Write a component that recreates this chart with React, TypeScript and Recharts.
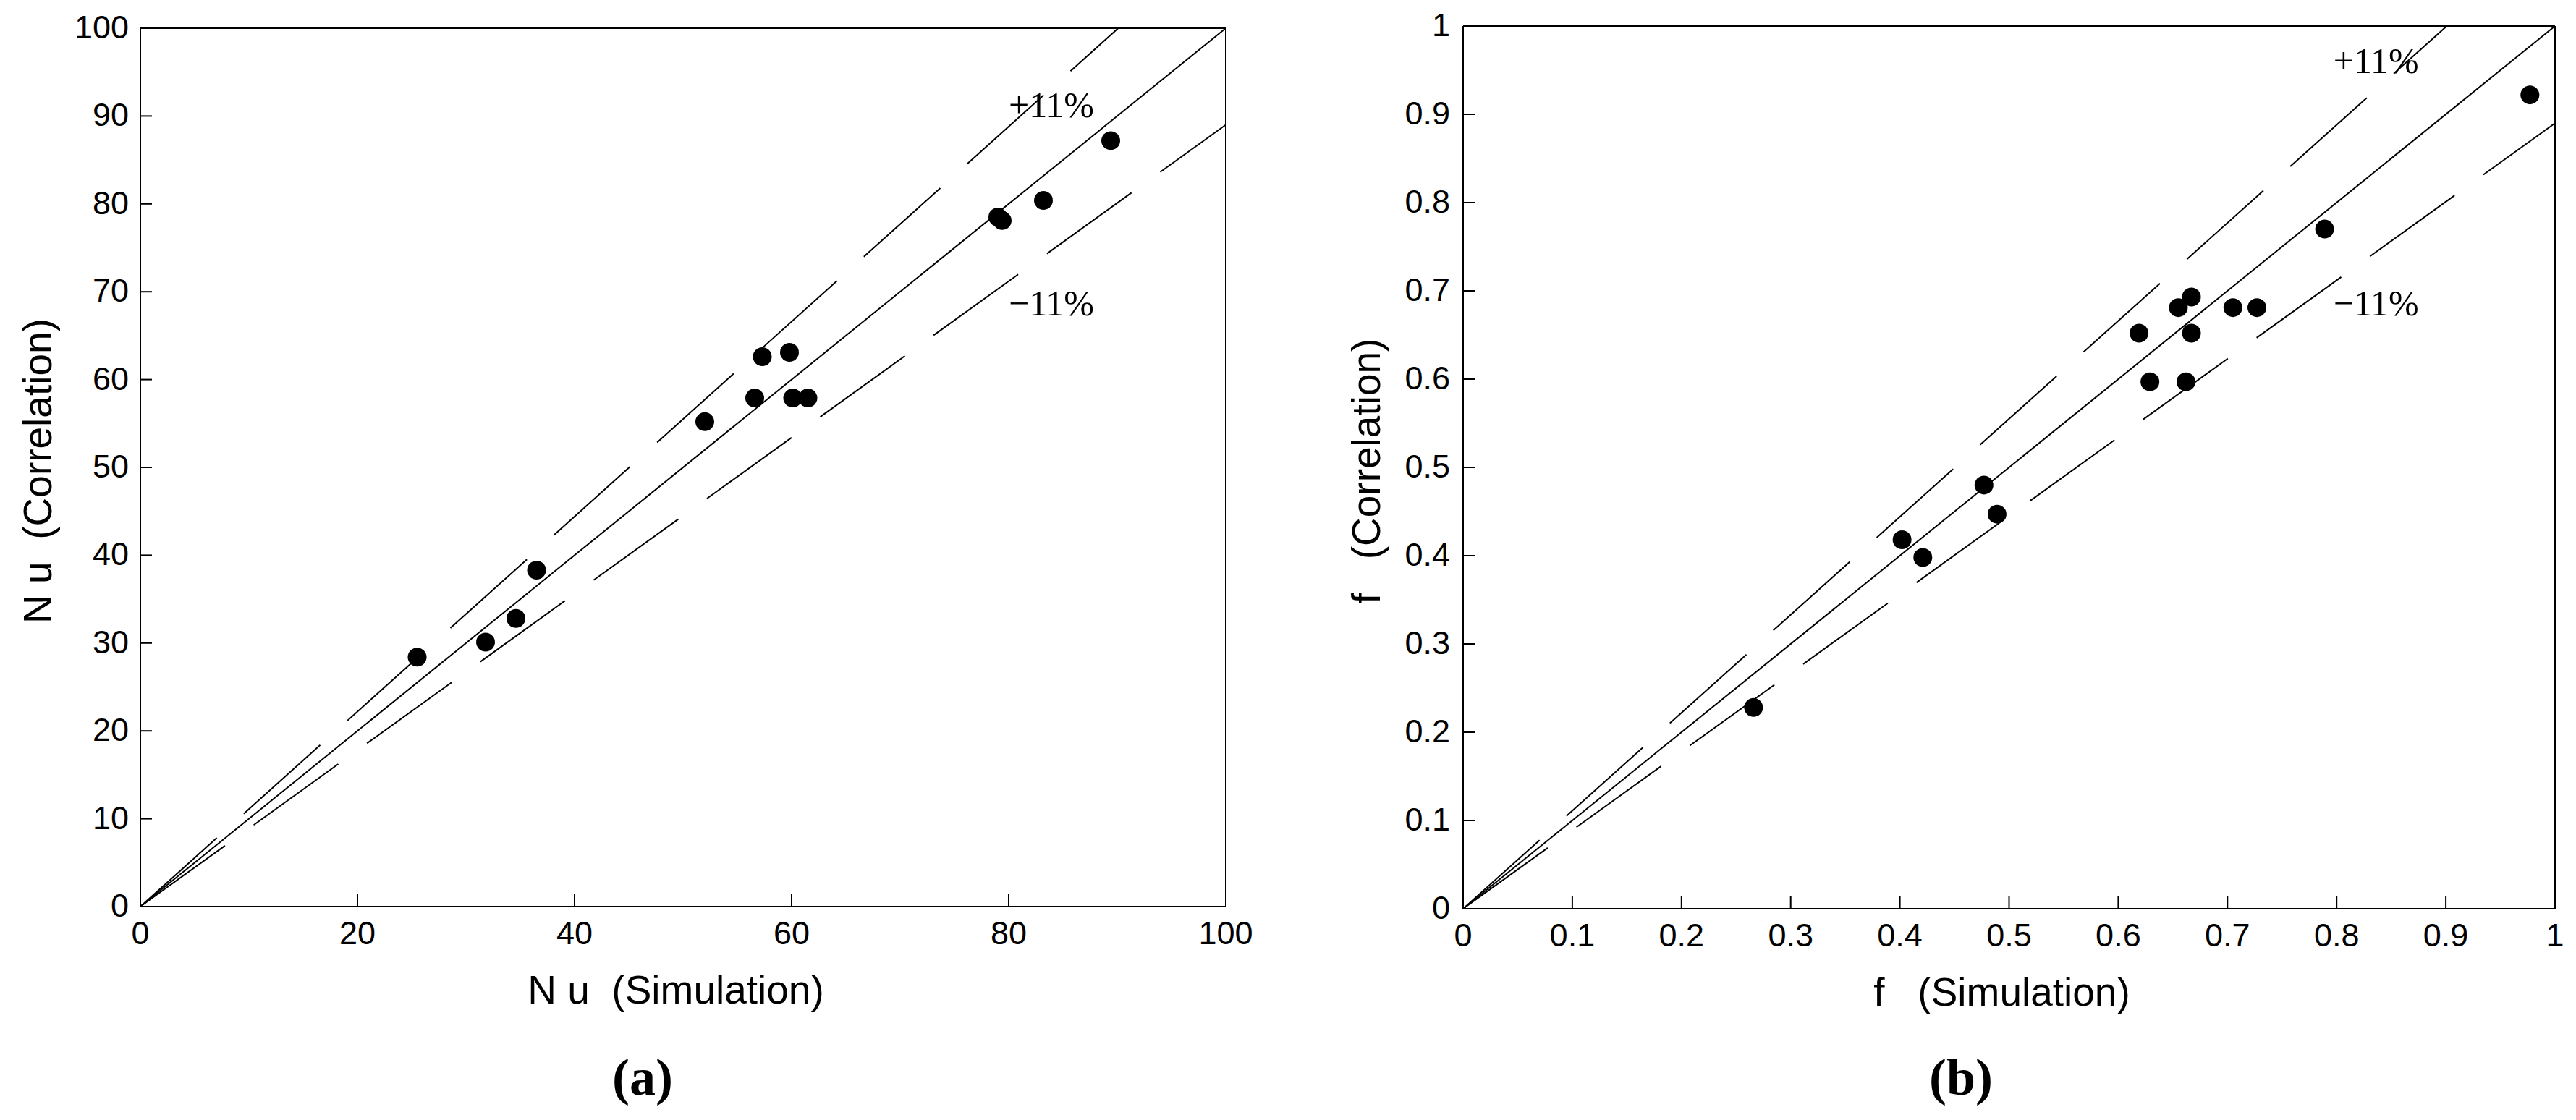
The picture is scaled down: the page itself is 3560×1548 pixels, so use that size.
import React from 'react';
import { ScatterChart, Scatter, XAxis, YAxis, ReferenceLine, ReferenceDot } from 'recharts';

const SANS = '"Liberation Sans", Arial, sans-serif';
const SERIF = '"Liberation Serif", "Times New Roman", serif';

// ---- Panel (a): Nu ----
const nuSimulation = [25.5, 31.8, 34.6, 36.5, 52.0, 56.6, 57.3, 59.8, 60.1, 61.5, 79.0, 79.4, 83.2, 89.4];
const nuCorrelation = [28.4, 30.1, 32.8, 38.3, 55.2, 57.9, 62.6, 63.1, 57.9, 57.9, 78.5, 78.1, 80.4, 87.2];
const nuTicksX = [0, 20, 40, 60, 80, 100];
const nuTickLabelsX = ['0', '20', '40', '60', '80', '100'];
const nuTicksY = [0, 10, 20, 30, 40, 50, 60, 70, 80, 90, 100];
const nuTickLabelsY = ['0', '10', '20', '30', '40', '50', '60', '70', '80', '90', '100'];
const nuDiagonal = [{ x: 0, y: 0 }, { x: 100, y: 100 }];
const nuUpper = [{ x: 0, y: 0 }, { x: 90.09, y: 100 }];
const nuLower = [{ x: 0, y: 0 }, { x: 100, y: 89 }];
const nuPlusLabel = { x: 80, y: 89.9, text: '+11%' };
const nuMinusLabel = { x: 80, y: 67.3, text: '\u221211%' };

// ---- Panel (b): f ----
const fSimulation = [0.266, 0.402, 0.421, 0.477, 0.489, 0.619, 0.629, 0.655, 0.667, 0.667, 0.662, 0.705, 0.727, 0.789, 0.977];
const fCorrelation = [0.228, 0.418, 0.398, 0.48, 0.447, 0.652, 0.597, 0.681, 0.693, 0.652, 0.597, 0.681, 0.681, 0.77, 0.922];
const fTicks = [0, 0.1, 0.2, 0.3, 0.4, 0.5, 0.6, 0.7, 0.8, 0.9, 1];
const fTickLabels = ['0', '0.1', '0.2', '0.3', '0.4', '0.5', '0.6', '0.7', '0.8', '0.9', '1'];
const fDiagonal = [{ x: 0, y: 0 }, { x: 1, y: 1 }];
const fUpper = [{ x: 0, y: 0 }, { x: 0.9009, y: 1 }];
const fLower = [{ x: 0, y: 0 }, { x: 1, y: 0.89 }];
const fPlusLabel = { x: 0.797, y: 0.947, text: '+11%' };
const fMinusLabel = { x: 0.797, y: 0.672, text: '\u221211%' };

const toPoints = (xs: number[], ys: number[]) => xs.map((x, i) => ({ x, y: ys[i] }));

const labelFor = (ticks: number[], labels: string[], v: number) => {
  const i = ticks.findIndex((t) => Math.abs(t - v) < 1e-9);
  return i >= 0 ? labels[i] : String(v);
};

const Nothing = () => <g />;
const Dot = (p: any) => <circle cx={p.cx} cy={p.cy} r={13} fill="#000" />;

type PanelProps = {
  left: number;
  top: number;
  margin: { top: number; right: number; bottom: number; left: number };
  max: number;
  points: { x: number; y: number }[];
  ticksX: number[];
  labelsX: string[];
  ticksY: number[];
  labelsY: string[];
  diagonal: { x: number; y: number }[];
  upper: { x: number; y: number }[];
  lower: { x: number; y: number }[];
  plus: { x: number; y: number; text: string };
  minus: { x: number; y: number; text: string };
  xTitle: string;
  yTitle: string;
  yTitleOffset: number;
  yTickGap: number;
};

const Panel = (props: PanelProps) => {
  const {
    left, top, margin, max, points, ticksX, labelsX, ticksY, labelsY,
    diagonal, upper, lower, plus, minus, xTitle, yTitle, yTitleOffset, yTickGap,
  } = props;

  const XTick = (p: any) => {
    const { x, y, payload } = p;
    return (
      <g>
        <line x1={x} y1={y} x2={x} y2={y - 17} stroke="#000" strokeWidth={2} />
        <text x={x} y={y + 52} textAnchor="middle" fontFamily={SANS} fontSize={45} fill="#000">
          {labelFor(ticksX, labelsX, payload.value)}
        </text>
      </g>
    );
  };
  const YTick = (p: any) => {
    const { x, y, payload } = p;
    return (
      <g>
        <line x1={x} y1={y} x2={x + 16} y2={y} stroke="#000" strokeWidth={2} />
        <text x={x - yTickGap} y={y + 14} textAnchor="end" fontFamily={SANS} fontSize={45} fill="#000">
          {labelFor(ticksY, labelsY, payload.value)}
        </text>
      </g>
    );
  };

  const XTitle = (p: any) => {
    const vb = p.viewBox || {};
    return (
      <text
        x={vb.x + vb.width / 2 - 10}
        y={vb.y + 134}
        textAnchor="middle"
        fontFamily={SANS}
        fontSize={55}
        fill="#000"
        style={{ whiteSpace: 'pre' }}
      >
        {xTitle}
      </text>
    );
  };
  const YTitle = (p: any) => {
    const vb = p.viewBox || {};
    const cx = vb.x + vb.width - yTitleOffset + 14;
    const cy = vb.y + vb.height / 2 + 5;
    return (
      <text
        x={cx}
        y={cy}
        transform={`rotate(-90 ${cx} ${cy})`}
        textAnchor="middle"
        fontFamily={SANS}
        fontSize={55}
        fill="#000"
        style={{ whiteSpace: 'pre' }}
      >
        {yTitle}
      </text>
    );
  };

  const textShape = (text: string) => (p: any) => (
    <text x={p.cx} y={p.cy} fontFamily={SERIF} fontSize={50} fill="#000">
      {text}
    </text>
  );

  return (
    <div style={{ position: 'absolute', left, top }}>
      <ScatterChart width={1780} height={1548} margin={margin}>
        <XAxis
          type="number"
          dataKey="x"
          domain={[0, max]}
          ticks={ticksX}
          interval={0}
          tickSize={0}
          tickMargin={0}
          tick={XTick}
          tickLine={false}
          axisLine={{ stroke: '#000', strokeWidth: 2 }}
          height={120}
          label={XTitle}
        />
        <YAxis
          type="number"
          dataKey="y"
          domain={[0, max]}
          ticks={ticksY}
          interval={0}
          tickSize={0}
          tickMargin={0}
          tick={YTick}
          tickLine={false}
          axisLine={{ stroke: '#000', strokeWidth: 2 }}
          width={150}
          label={YTitle}
        />
        <ReferenceLine y={max} stroke="#000" strokeWidth={2} />
        <ReferenceLine x={max} stroke="#000" strokeWidth={2} />
        <Scatter
          data={diagonal}
          fill="#000"
          line={{ stroke: '#000', strokeWidth: 2 }}
          shape={Nothing}
          isAnimationActive={false}
        />
        <Scatter
          data={upper}
          fill="#000"
          line={{ stroke: '#000', strokeWidth: 2, strokeDasharray: '142 50' }}
          shape={Nothing}
          isAnimationActive={false}
        />
        <Scatter
          data={lower}
          fill="#000"
          line={{ stroke: '#000', strokeWidth: 2, strokeDasharray: '144 49' }}
          shape={Nothing}
          isAnimationActive={false}
        />
        <Scatter data={points} fill="#000" shape={Dot} isAnimationActive={false} />
        <ReferenceDot x={plus.x} y={plus.y} r={0} ifOverflow="visible" shape={textShape(plus.text)} />
        <ReferenceDot x={minus.x} y={minus.y} r={0} ifOverflow="visible" shape={textShape(minus.text)} />
      </ScatterChart>
    </div>
  );
};

export default function App() {
  return (
    <div style={{ position: 'absolute', left: 0, top: 0, width: 3560, height: 1548, background: '#fff', overflow: 'hidden' }}>
      <Panel
        left={0}
        top={0}
        margin={{ top: 39, right: 86, bottom: 175, left: 44 }}
        max={100}
        points={toPoints(nuSimulation, nuCorrelation)}
        ticksX={nuTicksX}
        labelsX={nuTickLabelsX}
        ticksY={nuTicksY}
        labelsY={nuTickLabelsY}
        diagonal={nuDiagonal}
        upper={nuUpper}
        lower={nuLower}
        plus={nuPlusLabel}
        minus={nuMinusLabel}
        xTitle={'N u  (Simulation)'}
        yTitle={'N u  (Correlation)'}
        yTitleOffset={137}
        yTickGap={16}
      />
      <Panel
        left={1780}
        top={0}
        margin={{ top: 36, right: 29, bottom: 172, left: 92 }}
        max={1}
        points={toPoints(fSimulation, fCorrelation)}
        ticksX={fTicks}
        labelsX={fTickLabels}
        ticksY={fTicks}
        labelsY={fTickLabels}
        diagonal={fDiagonal}
        upper={fUpper}
        lower={fLower}
        plus={fPlusLabel}
        minus={fMinusLabel}
        xTitle={'f   (Simulation)'}
        yTitle={'f   (Correlation)'}
        yTitleOffset={129}
        yTickGap={18}
      />
      <svg width={3560} height={1548} style={{ position: 'absolute', left: 0, top: 0, pointerEvents: 'none' }}>
        <text x={888} y={1513} textAnchor="middle" fontFamily={SERIF} fontWeight="bold" fontSize={72} fill="#000">
          (a)
        </text>
        <text x={2710} y={1513} textAnchor="middle" fontFamily={SERIF} fontWeight="bold" fontSize={72} fill="#000">
          (b)
        </text>
      </svg>
    </div>
  );
}
